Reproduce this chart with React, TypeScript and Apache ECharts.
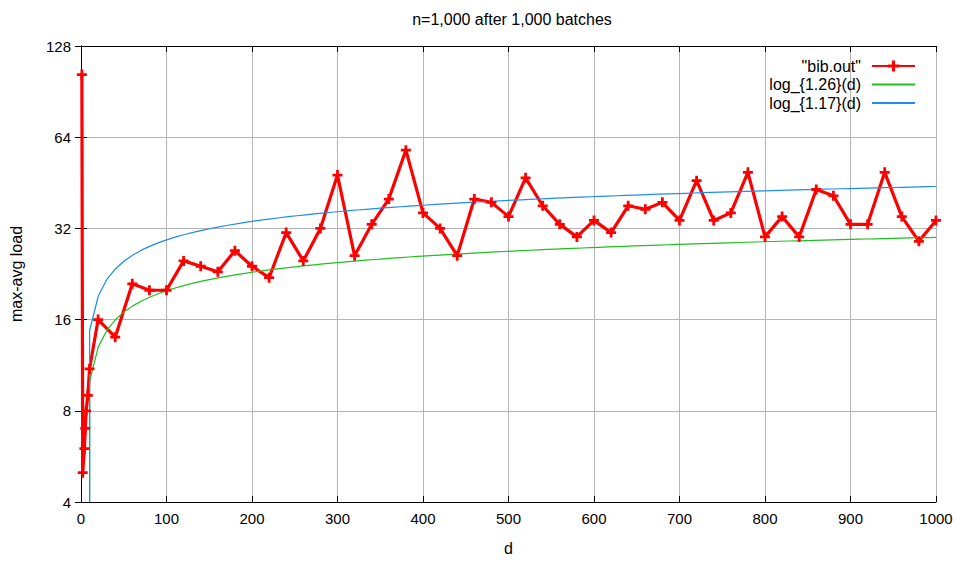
import React, { useEffect, useRef } from "react";
import * as echarts from "echarts";

// bib.out data: number of choices d and measured max-avg load
const dValues = [
  1, 2, 4, 5, 6, 8, 10,
  20, 40, 60, 80, 100, 120, 140, 160, 180, 200,
  220, 240, 260, 280, 300, 320, 340, 360, 380, 400,
  420, 440, 460, 480, 500, 520, 540, 560, 580, 600,
  620, 640, 660, 680, 700, 720, 740, 760, 780, 800,
  820, 840, 860, 880, 900, 920, 940, 960, 980, 1000,
];
const loadValues = [
  103, 5, 6, 7, 8, 9, 11,
  16, 14, 21, 20, 20, 25, 24, 23, 27, 24,
  22, 31, 25, 32, 48, 26, 33, 40, 58, 36,
  32, 26, 40, 39, 35, 47, 38, 33, 30, 34,
  31, 38, 37, 39, 34, 46, 34, 36, 49, 30,
  35, 30, 43, 41, 33, 33, 49, 35, 29, 34,
];

const xTickValues = [0, 100, 200, 300, 400, 500, 600, 700, 800, 900, 1000];
const yTickValues = [4, 8, 16, 32, 64, 128];

const seriesNames = ['"bib.out"', "log_{1.26}(d)", "log_{1.17}(d)"];
const logBases = [1.26, 1.17];
const sampleCount = 100;

const FONT = "Liberation Sans, Arial, sans-serif";

function sampleLog(base: number): [number, number][] {
  const pts: [number, number][] = [];
  const xMax = xTickValues[xTickValues.length - 1];
  for (let i = 1; i < sampleCount; i++) {
    const d = (i * xMax) / (sampleCount - 1);
    pts.push([d, Math.log(d) / Math.log(base)]);
  }
  // gnuplot drew the undefined first sample (d=0) as a drop to the bottom edge
  pts.unshift([pts[0][0], yTickValues[0]]);
  return pts;
}

const plusPath =
  "path://M3.6,0H6.4V3.6H10V6.4H6.4V10H3.6V6.4H0V3.6H3.6Z";

export default function App() {
  const ref = useRef<HTMLDivElement>(null);

  useEffect(() => {
    if (!ref.current) return;
    const chart = echarts.init(ref.current, undefined, { renderer: "svg" });
    const gridColor = "#b4b4b4";
    const xMin = xTickValues[0];
    const xMax = xTickValues[xTickValues.length - 1];
    const yMin = yTickValues[0];
    const yMax = yTickValues[yTickValues.length - 1];

    const baseX = {
      type: "value" as const,
      min: xMin,
      max: xMax,
      interval: 100,
      axisLine: { show: true, lineStyle: { color: "#000", width: 1 } },
      axisTick: { show: true, inside: true, length: 6, lineStyle: { color: "#000" } },
    };
    const baseY = {
      type: "log" as const,
      logBase: 2,
      min: yMin,
      max: yMax,
      interval: 1,
      axisLine: { show: true, lineStyle: { color: "#000", width: 1 } },
      axisTick: { show: true, inside: true, length: 6, lineStyle: { color: "#000" } },
    };

    chart.setOption({
      animation: false,
      backgroundColor: "#fff",
      title: {
        text: "n=1,000 after 1,000 batches",
        left: 507,
        top: 6,
        textAlign: "center",
        textStyle: { fontFamily: FONT, fontSize: 16, fontWeight: "normal", color: "#000" },
      },
      grid: { left: 81, right: 20, top: 46, bottom: 55, containLabel: false },
      legend: {
        orient: "vertical",
        right: 35,
        top: 52,
        align: "right",
        itemWidth: 43,
        itemHeight: 14,
        itemGap: 0.5,
        data: [
          { name: seriesNames[0] },
          { name: seriesNames[1], itemStyle: { opacity: 0 } },
          { name: seriesNames[2], itemStyle: { opacity: 0 } },
        ],
        textStyle: { fontFamily: FONT, fontSize: 16, lineHeight: 18, color: "#000", padding: [0, 6, 0, 0] },
      },
      xAxis: [
        {
          ...baseX,
          position: "bottom",
          name: "d",
          nameLocation: "middle",
          nameGap: 38,
          nameTextStyle: { fontFamily: FONT, fontSize: 16, color: "#000" },
          axisLabel: { fontFamily: FONT, fontSize: 15, color: "#000", margin: 9, formatter: (v: number) => String(v) },
          splitLine: { show: true, lineStyle: { color: gridColor, width: 1 } },
        },
        {
          ...baseX,
          position: "top",
          axisLabel: { show: false },
          splitLine: { show: false },
        },
      ],
      yAxis: [
        {
          ...baseY,
          position: "left",
          name: "max-avg load",
          nameLocation: "middle",
          nameGap: 57,
          nameRotate: 90,
          nameTextStyle: { fontFamily: FONT, fontSize: 16, color: "#000" },
          axisLabel: { fontFamily: FONT, fontSize: 15, color: "#000", margin: 10, formatter: (v: number) => String(Math.round(v)) },
          splitLine: { show: true, lineStyle: { color: gridColor, width: 1 } },
        },
        {
          ...baseY,
          position: "right",
          axisLabel: { show: false },
          splitLine: { show: false },
        },
      ],
      series: [
        {
          name: seriesNames[0],
          type: "line",
          xAxisIndex: 0,
          yAxisIndex: 0,
          data: dValues.map((d, i) => [d, loadValues[i]]),
          symbol: plusPath,
          symbolSize: 10,
          showAllSymbol: true,
          lineStyle: { color: "#ff0000", width: 3.2 },
          itemStyle: { color: "#ff0000" },
          color: "#ff0000",
          clip: true,
        },
        {
          name: seriesNames[1],
          type: "line",
          xAxisIndex: 0,
          yAxisIndex: 0,
          data: sampleLog(logBases[0]),
          showSymbol: false,
          symbol: "none",
          lineStyle: { color: "#1fbf1f", width: 1.2 },
          itemStyle: { color: "#1fbf1f" },
          color: "#1fbf1f",
          clip: true,
        },
        {
          name: seriesNames[2],
          type: "line",
          xAxisIndex: 0,
          yAxisIndex: 0,
          data: sampleLog(logBases[1]),
          showSymbol: false,
          symbol: "none",
          lineStyle: { color: "#1e8cf0", width: 1.2 },
          itemStyle: { color: "#1e8cf0" },
          color: "#1e8cf0",
          clip: true,
        },
      ],
    });

    return () => chart.dispose();
  }, []);

  return <div ref={ref} style={{ width: 956, height: 561, position: "absolute", left: 0, top: 0 }} />;
}
